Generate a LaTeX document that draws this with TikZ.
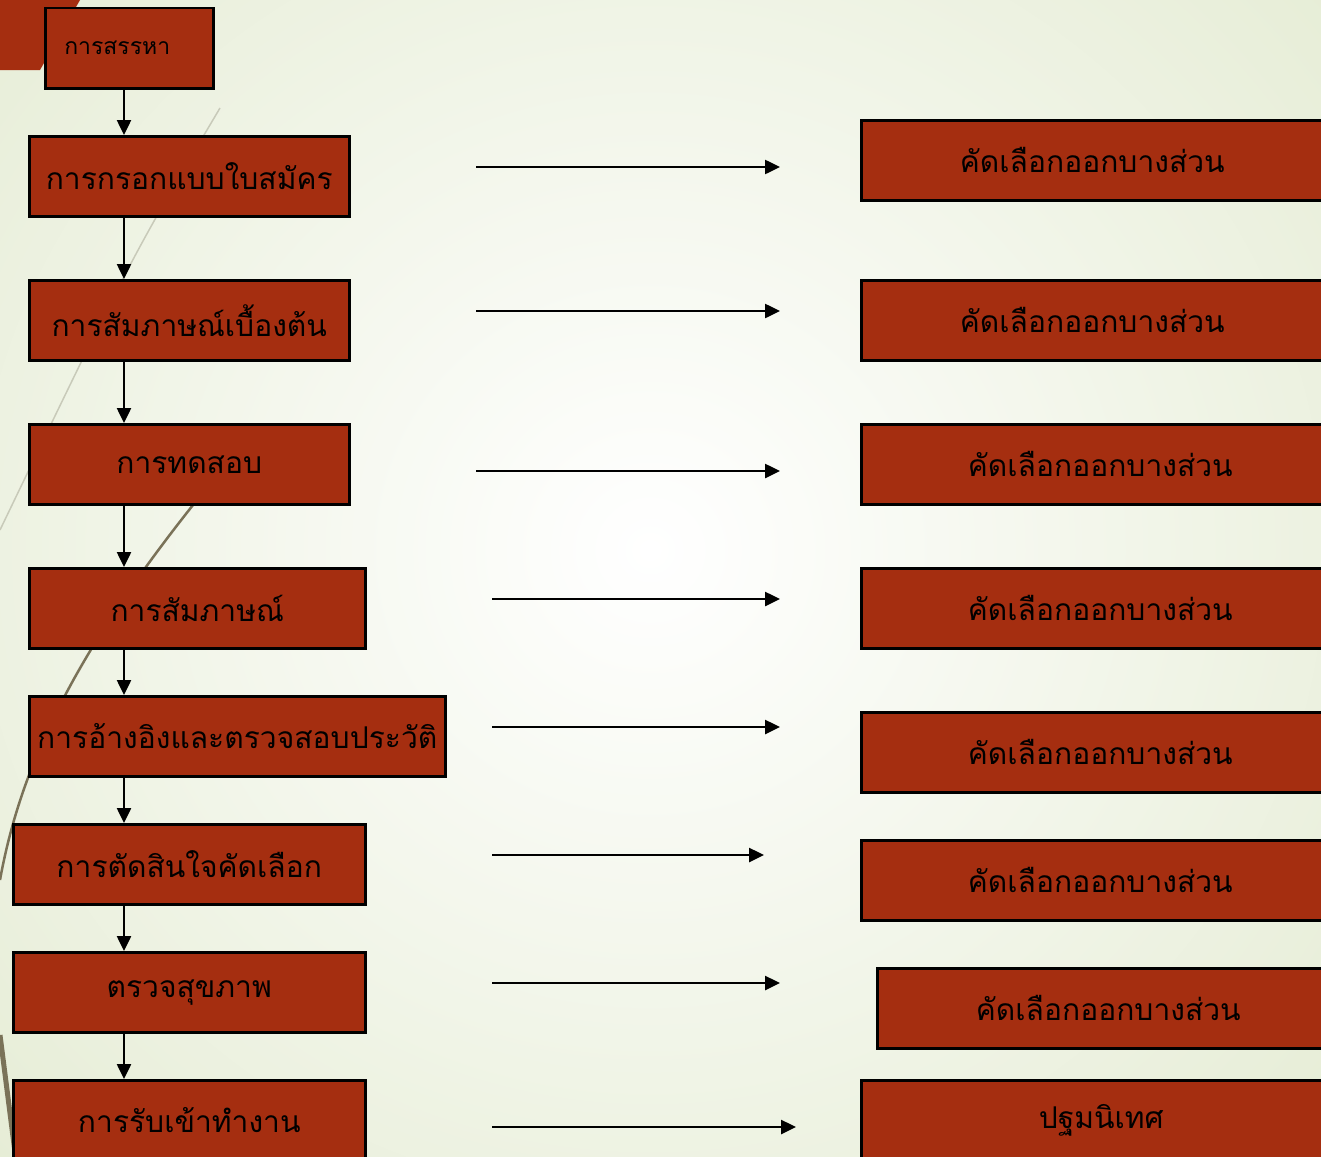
\documentclass[tikz,border=0pt]{standalone}
\usepackage{fontspec}
\newfontfamily\thaifont[Script=Thai]{Loma}
\usetikzlibrary{arrows.meta,positioning}
\definecolor{rot}{RGB}{165,46,16}
\definecolor{bgg}{RGB}{218,228,194}
\definecolor{oliv}{RGB}{122,114,88}
\definecolor{wisp}{RGB}{200,202,185}
\tikzset{>={Triangle[length=15pt,width=14pt]}}

\begin{document}
\begin{tikzpicture}[x=1pt,y=-1pt]
        \tikzset{
        stagebox/.style={draw=black, line width=2.5pt, fill=rot, anchor=north west, minimum height=80pt, inner sep=0pt, font=\thaifont\fontsize{30}{32}\selectfont},
        dropbox/.style={stagebox},
        flow/.style={->, line width=2.5pt},
        }

        \useasboundingbox (0,0) rectangle (1321,1156);
        \clip (0,0) rectangle (1321,1156);

        % Background and decoration.
        \shade [inner color=white, outer color=bgg] (-700,-750) rectangle (2000,1850);
        \draw [wisp, line width=1.5pt] (220,108) .. controls (130,260) .. (0,530);
        \draw [oliv, line width=2.5pt] (193,505) .. controls (70,660) and (20,770) .. (0,880);
        \draw [oliv, line width=5pt] (0,1035) -- (16,1160);
        \fill [rot] (0,0) -- (80,0) -- (40,70) -- (0,70) -- cycle;

        % Steps (left column).
        \node[stagebox, minimum width=168pt, text width=130pt, align=left, font=\thaifont\fontsize{23}{25}\selectfont] (sanha) at (44,7) {การสรรหา};
        \node[stagebox, minimum width=320pt] (kroak)   at (28,135)  {การกรอกแบบใบสมัคร};
        \node[stagebox, minimum width=320pt] (tonton)  at (28,279)  {การสัมภาษณ์เบื้องต้น};
        \node[stagebox, minimum width=320pt] (thotsop) at (28,423)  {การทดสอบ};
        \node[stagebox, minimum width=336pt] (samphat) at (28,567)  {การสัมภาษณ์};
        \node[stagebox, minimum width=416pt] (angying) at (28,695)  {การอ้างอิงและตรวจสอบประวัติ};
        \node[stagebox, minimum width=352pt] (tatsin)  at (12,823)  {การตัดสินใจคัดเลือก};
        \node[stagebox, minimum width=352pt] (suk)     at (12,951)  {ตรวจสุขภาพ};
        \node[stagebox, minimum width=352pt] (rap)     at (12,1079) {การรับเข้าทำงาน};

        % Results (right column).
        \node[dropbox, minimum width=462pt] (khat1) at (860,119)  {คัดเลือกออกบางส่วน};
        \node[dropbox, minimum width=462pt] (khat2) at (860,279)  {คัดเลือกออกบางส่วน};
        \node[dropbox, minimum width=478pt] (khat3) at (860,423)  {คัดเลือกออกบางส่วน};
        \node[dropbox, minimum width=478pt] (khat4) at (860,567)  {คัดเลือกออกบางส่วน};
        \node[dropbox, minimum width=478pt] (khat5) at (860,711)  {คัดเลือกออกบางส่วน};
        \node[dropbox, minimum width=478pt] (khat6) at (860,839)  {คัดเลือกออกบางส่วน};
        \node[dropbox, minimum width=462pt] (khat7) at (876,967)  {คัดเลือกออกบางส่วน};
        \node[dropbox, minimum width=480pt] (pathom) at (860,1079) {ปฐมนิเทศ};

        % Down the column.
        \coordinate (col) at (124,0);
        \draw [flow] (sanha.south -| col)   -- (kroak.north -| col);
        \draw [flow] (kroak.south -| col)   -- (tonton.north -| col);
        \draw [flow] (tonton.south -| col)  -- (thotsop.north -| col);
        \draw [flow] (thotsop.south -| col) -- (samphat.north -| col);
        \draw [flow] (samphat.south -| col) -- (angying.north -| col);
        \draw [flow] (angying.south -| col) -- (tatsin.north -| col);
        \draw [flow] (tatsin.south -| col)  -- (suk.north -| col);
        \draw [flow] (suk.south -| col)     -- (rap.north -| col);

        % Across.
        \coordinate (s1) at (476,167);  \coordinate (e1) at (780,167);
        \coordinate (s2) at (476,311);  \coordinate (e2) at (780,311);
        \coordinate (s3) at (476,471);  \coordinate (e3) at (780,471);
        \coordinate (s4) at (492,599);  \coordinate (e4) at (780,599);
        \coordinate (s5) at (492,727);  \coordinate (e5) at (780,727);
        \coordinate (s6) at (492,855);  \coordinate (e6) at (764,855);
        \coordinate (s7) at (492,983);  \coordinate (e7) at (780,983);
        \coordinate (s8) at (492,1127); \coordinate (e8) at (796,1127);
        \draw [flow] (s1) -- (e1);
        \draw [flow] (s2) -- (e2);
        \draw [flow] (s3) -- (e3);
        \draw [flow] (s4) -- (e4);
        \draw [flow] (s5) -- (e5);
        \draw [flow] (s6) -- (e6);
        \draw [flow] (s7) -- (e7);
        \draw [flow] (s8) -- (e8);
\end{tikzpicture}
\end{document}
